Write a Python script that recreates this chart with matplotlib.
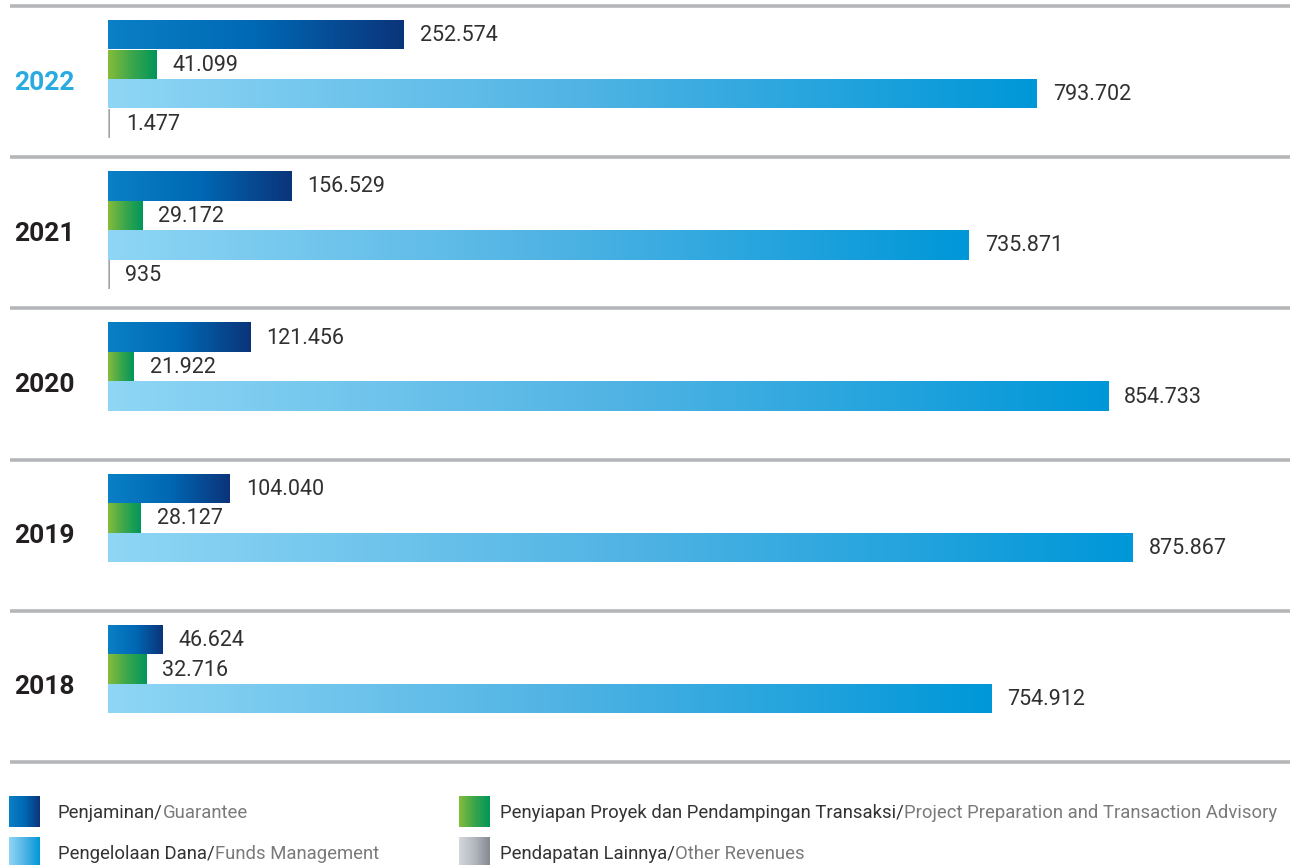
import numpy as np
import matplotlib
matplotlib.use("Agg")
import matplotlib.pyplot as plt
from matplotlib.colors import LinearSegmentedColormap

# Revenue by segment (values shown as written in the report, thousands separator '.')
years = ["2022", "2021", "2020", "2019", "2018"]
guarantee = [252.574, 156.529, 121.456, 104.040, 46.624]
project_prep = [41.099, 29.172, 21.922, 28.127, 32.716]
funds_mgmt = [793.702, 735.871, 854.733, 875.867, 754.912]
other_rev = [1.477, 0.935, None, None, None]
value_labels = [
    ["252.574", "41.099", "793.702", "1.477"],
    ["156.529", "29.172", "735.871", "935"],
    ["121.456", "21.922", "854.733", None],
    ["104.040", "28.127", "875.867", None],
    ["46.624", "32.716", "754.912", None],
]
legend_id = ["Penjaminan/", "Penyiapan Proyek dan Pendampingan Transaksi/",
             "Pengelolaan Dana/", "Pendapatan Lainnya/"]
legend_en = ["Guarantee", "Project Preparation and Transaction Advisory",
             "Funds Management", "Other Revenues"]

# gradient colour stops per series (left -> right)
grad_colors = [
    ["#0a80c6", "#0068b4", "#0b347a"],
    ["#86bc3a", "#3aa64c", "#00965a"],
    ["#8fd6f5", "#52b4e4", "#0097d8"],
    ["#d3d8dd", "#b3b8be", "#868a90"],
]
cmaps = [LinearSegmentedColormap.from_list(f"g{i}", c) for i, c in enumerate(grad_colors)]
grad = np.linspace(0, 1, 256).reshape(1, -1)

W, H = 1295, 865
fig = plt.figure(figsize=(W / 100, H / 100), dpi=100)
ax = fig.add_axes([0, 0, 1, 1])

# horizontal scale: value 0 sits at x0 pixels, px_per_unit pixels per value unit
x0, px_per_unit = 108, 1.17
ax.set_xlim(-x0 / px_per_unit, (W - x0) / px_per_unit)
ax.set_ylim(H, 0)
ax.axis("off")

font = "Roboto"
sep_top, group_h, bar_off, bar_h = 6, 151.2, 14, 29.5
line_x = [-98 / px_per_unit, (1290 - x0) / px_per_unit]

series = [guarantee, project_prep, funds_mgmt, other_rev]
for gi, year in enumerate(years):
    g_top = sep_top + gi * group_h
    ax.plot(line_x, [g_top, g_top], color="#b4b6b9", lw=2.6, solid_capstyle="butt")
    for si, vals in enumerate(series):
        v = vals[gi]
        if v is None:
            continue
        y = g_top + bar_off + si * bar_h
        bar = ax.barh(y, v, height=bar_h, align="edge", color="none", lw=0)[0]
        im = ax.imshow(grad, cmap=cmaps[si], aspect="auto",
                       extent=[0, v, y + bar_h, y], interpolation="bicubic", zorder=2)
        im.set_clip_path(bar)
        ax.text(v + 16 / px_per_unit, y + bar_h / 2 + 1, value_labels[gi][si],
                fontsize=15.5, family=font, color="#303030", va="center", ha="left")
    ax.text(-94 / px_per_unit, g_top + group_h / 2 + 1, year, fontsize=19,
            family=font, fontweight="bold", va="center", ha="left",
            color="#29abe2" if gi == 0 else "#231f20")

# closing separator under the last group
y_end = sep_top + len(years) * group_h
ax.plot(line_x, [y_end, y_end], color="#b4b6b9", lw=2.6, solid_capstyle="butt")

# legend (two columns, two rows) drawn in figure pixel coordinates
legend_pos = [(9, 796), (459, 796), (9, 837), (459, 837)]
text_gap = [49, 41, 49, 41]
legend_series = [0, 1, 2, 3]
fig.canvas.draw()
renderer = fig.canvas.get_renderer()
for (lx, ly), gap, si, t_id, t_en in zip(legend_pos, text_gap, legend_series,
                                         legend_id, legend_en):
    sw = fig.add_axes([lx / W, 1 - (ly + 31) / H, 31 / W, 31 / H])
    sw.imshow(grad, cmap=cmaps[si], aspect="auto", interpolation="bicubic")
    sw.axis("off")
    t1 = fig.text((lx + gap) / W, 1 - (ly + 17) / H, t_id, fontsize=13.3,
                  family=font, color="#333333", va="center", ha="left")
    bb = t1.get_window_extent(renderer=renderer)
    fig.text(bb.x1 / W, 1 - (ly + 17) / H, t_en, fontsize=13.3, family=font,
             color="#7a7a7a", va="center", ha="left")

fig.savefig("out.png", dpi=100)
